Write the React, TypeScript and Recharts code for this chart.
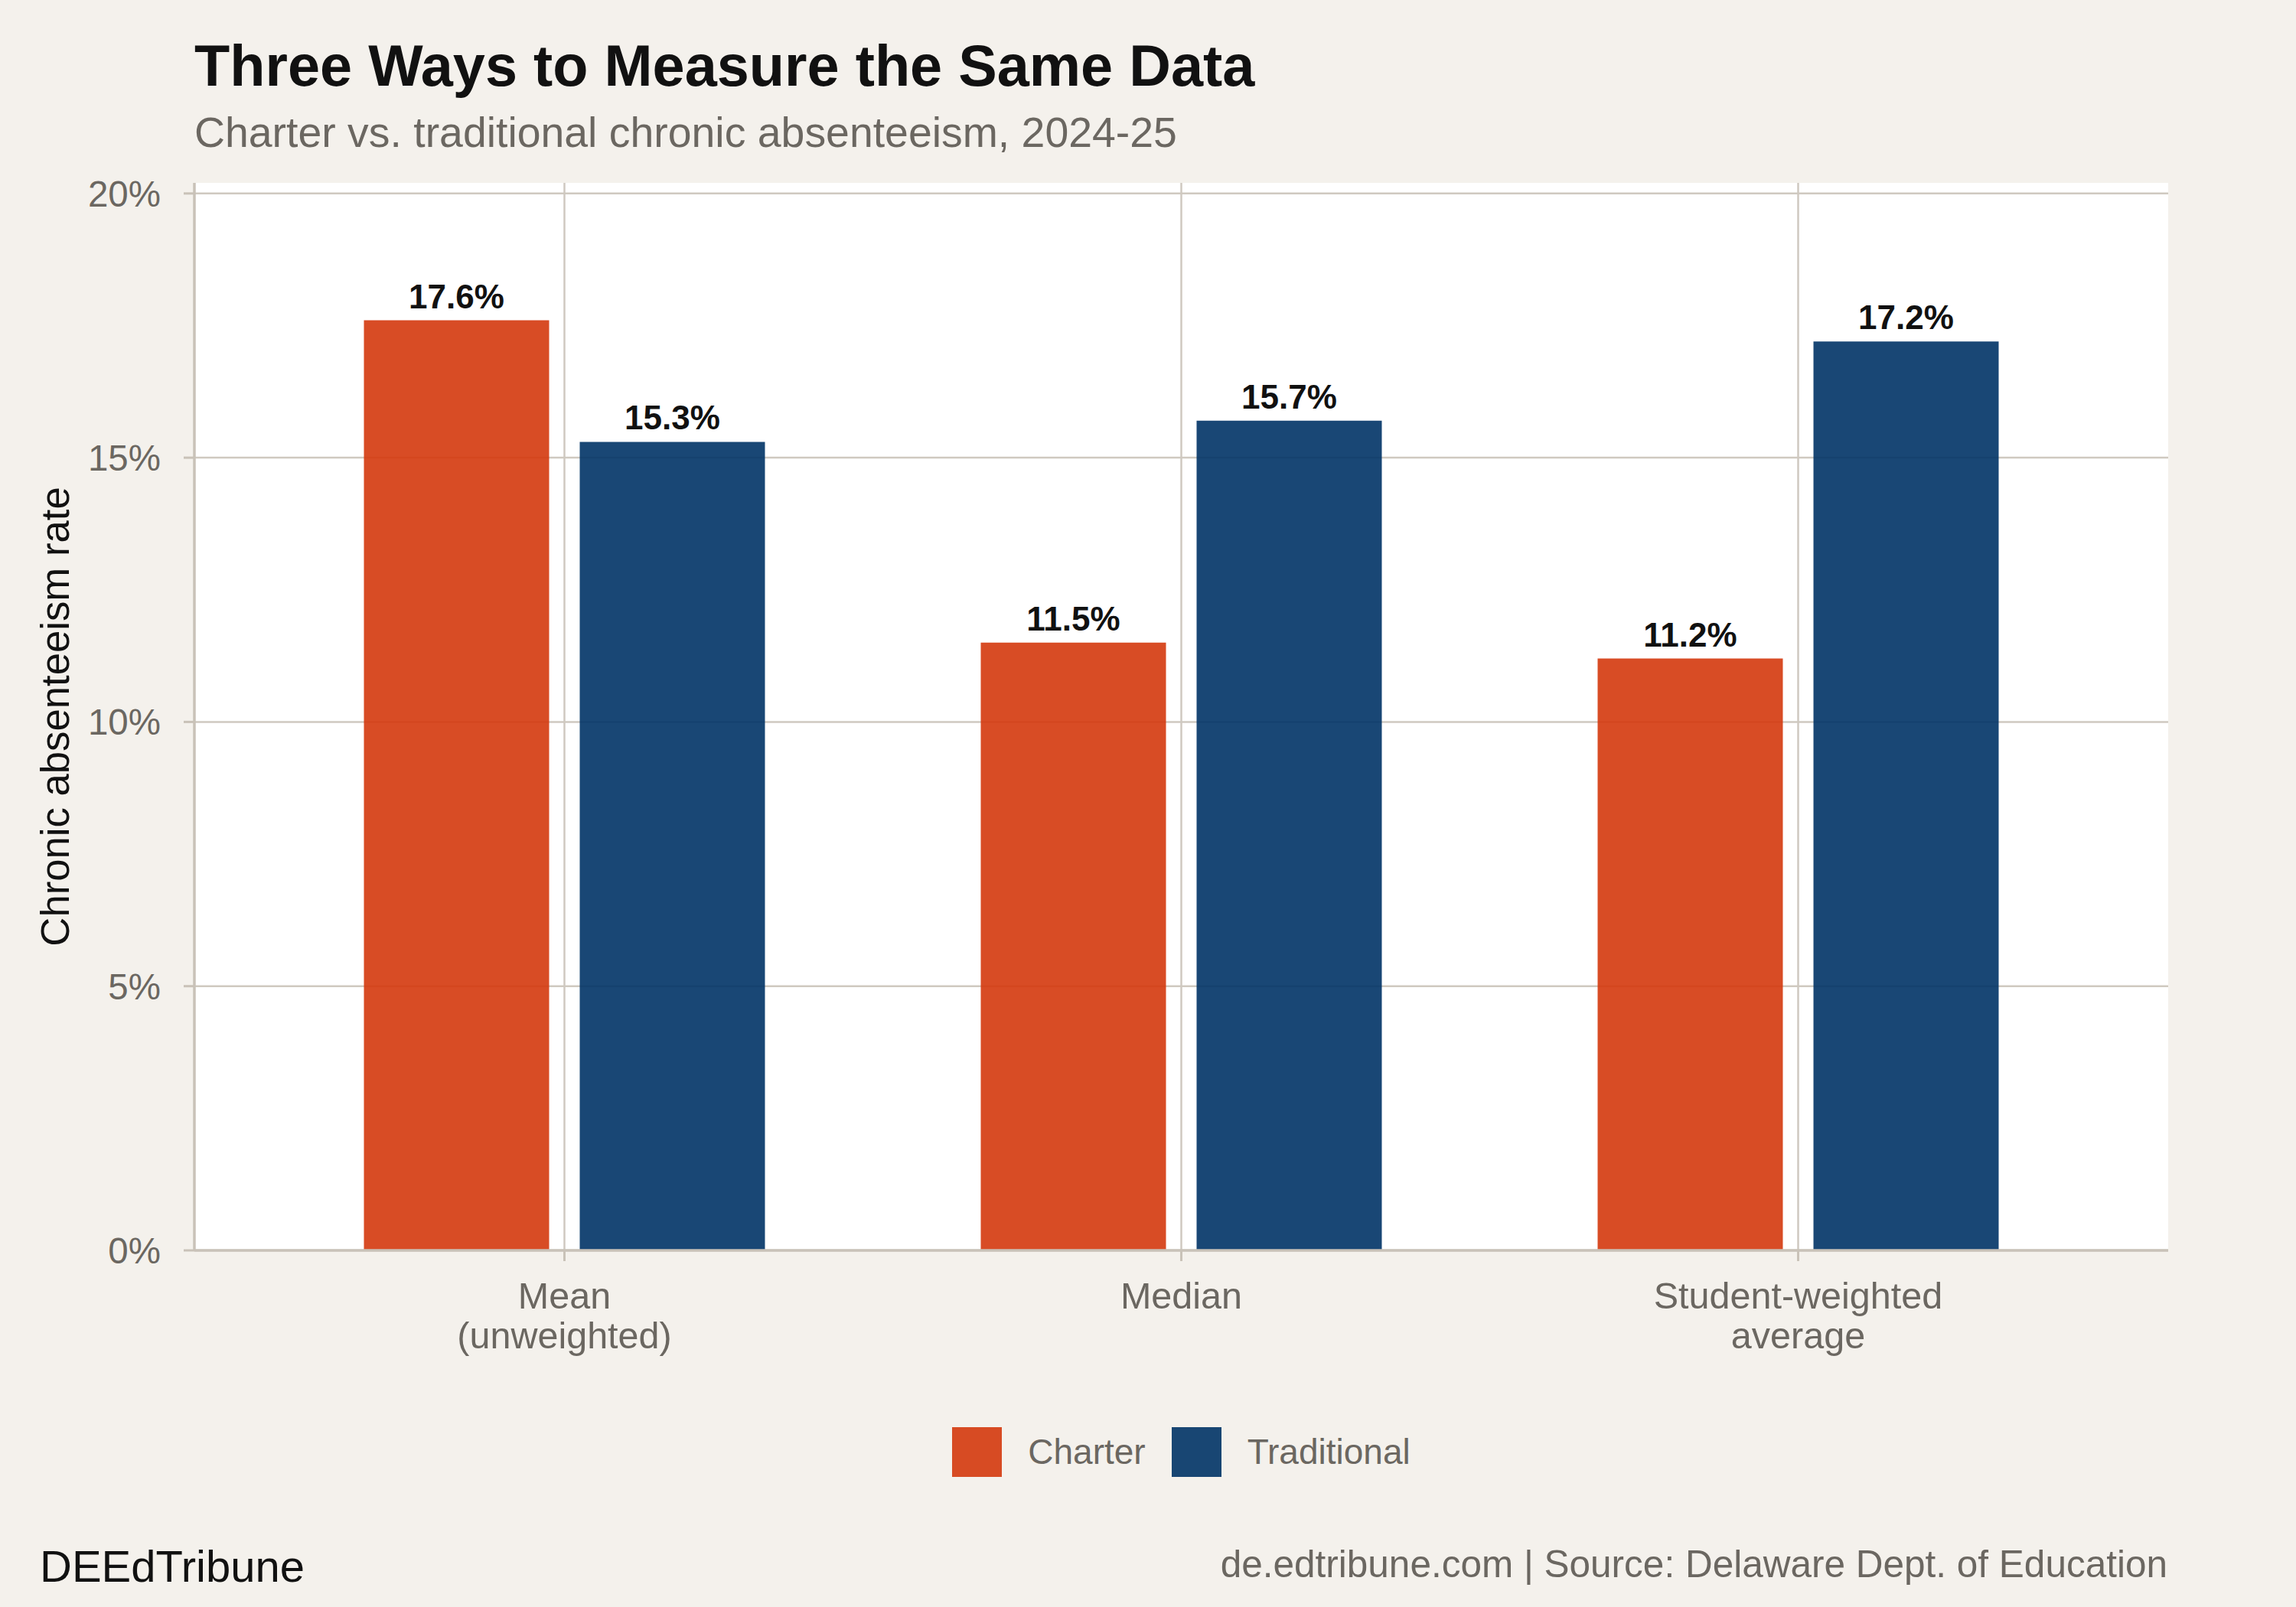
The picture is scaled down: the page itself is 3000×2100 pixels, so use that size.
import { Bar, BarChart, CartesianGrid, LabelList, Legend, XAxis, YAxis } from "recharts";

// chronic absenteeism rate (%) by summary method
const categories = ["Mean\n(unweighted)", "Median", "Student-weighted\naverage"];
const charterRates = [17.6, 11.5, 11.2];
const traditionalRates = [15.3, 15.7, 17.2];
const yTicks = [0, 5, 10, 15, 20];

const SERIES = [
  { key: "charter", name: "Charter", color: "#D4380D" },
  { key: "traditional", name: "Traditional", color: "#003366" },
];

const data = categories.map((label, i) => ({
  label,
  charter: charterRates[i],
  traditional: traditionalRates[i],
}));

const W = 3000;
const H = 2100;
const FONT = "'Liberation Sans', Arial, Helvetica, sans-serif";
const BG = "#F4F1EC";
const GRID = "#CFC9C0";
const AXIS = "#C9C2B8";
const MUTED = "#6B6761";
const INK = "#111111";

function CategoryTick({ x, y, payload }: any) {
  const lines = String(payload.value).split("\n");
  return (
    <text x={x} y={y} textAnchor="middle" fill={MUTED} fontSize={48.5} fontFamily={FONT}>
      {lines.map((line, i) => (
        <tspan key={i} x={x} dy={i === 0 ? 62 : 52}>
          {line}
        </tspan>
      ))}
    </text>
  );
}

function YTitle({ viewBox }: any) {
  const cx = 90;
  const cy = viewBox.y + viewBox.height / 2;
  return (
    <text
      x={cx}
      y={cy}
      transform={`rotate(-90, ${cx}, ${cy})`}
      textAnchor="middle"
      fill={INK}
      fontSize={52.7}
      fontFamily={FONT}
    >
      Chronic absenteeism rate
    </text>
  );
}

function LegendContent({ payload }: any) {
  return (
    <div
      style={{
        display: "flex",
        justifyContent: "center",
        alignItems: "center",
        gap: 34,
        fontFamily: FONT,
        fontSize: 46,
        lineHeight: "65px",
        color: MUTED,
      }}
    >
      {(payload || []).map((item: any) => (
        <div key={item.value} style={{ display: "flex", alignItems: "center", gap: 34 }}>
          <span style={{ width: 65, height: 65, background: item.color, opacity: 0.9 }} />
          <span>{item.value}</span>
        </div>
      ))}
    </div>
  );
}

export default function App() {
  return (
    <div style={{ position: "absolute", left: 0, top: 0, width: W, height: H, background: BG }}>
      <BarChart
        width={W}
        height={H}
        data={data}
        margin={{ top: 239, right: 167, bottom: 0, left: 0 }}
        barSize={242}
        barGap={40}
      >
        <CartesianGrid fill="#ffffff" stroke={GRID} strokeWidth={2.5} syncWithTicks />
        <XAxis
          dataKey="label"
          height={466}
          interval={0}
          padding={{ left: 80.5, right: 80.5 }}
          tickSize={14}
          tickMargin={0}
          tick={<CategoryTick />}
          tickLine={{ stroke: AXIS, strokeWidth: 3 }}
          axisLine={{ stroke: AXIS, strokeWidth: 3.5 }}
        />
        <YAxis
          width={254}
          type="number"
          domain={[0, 20.2]}
          ticks={yTicks}
          tickFormatter={(v) => `${v}%`}
          tickSize={14}
          tickMargin={30}
          tick={{ fill: MUTED, fontSize: 47.5, fontFamily: FONT }}
          tickLine={{ stroke: AXIS, strokeWidth: 3 }}
          axisLine={{ stroke: AXIS, strokeWidth: 3.5 }}
          label={<YTitle />}
        />
        <Legend
          layout="horizontal"
          verticalAlign="middle"
          align="center"
          wrapperStyle={{ top: 1865, left: 254, width: 2579 }}
          content={<LegendContent />}
        />
        {SERIES.map((s) => (
          <Bar
            key={s.key}
            dataKey={s.key}
            name={s.name}
            fill={s.color}
            fillOpacity={0.9}
            isAnimationActive={false}
          >
            <LabelList
              dataKey={s.key}
              position="top"
              offset={16}
              formatter={(v: any) => `${Number(v).toFixed(1)}%`}
              fill={INK}
              fontSize={44}
              fontWeight={700}
              fontFamily={FONT}
            />
          </Bar>
        ))}
      </BarChart>
      <svg
        width={W}
        height={H}
        style={{ position: "absolute", left: 0, top: 0, pointerEvents: "none" }}
        fontFamily={FONT}
      >
        <text x={254} y={112} fontSize={75.7} fontWeight={700} fill={INK}>
          Three Ways to Measure the Same Data
        </text>
        <text x={254} y={192} fontSize={55.4} fill={MUTED}>
          Charter vs. traditional chronic absenteeism, 2024-25
        </text>
        <text x={52} y={2067} fontSize={58} fill={INK}>
          DEEdTribune
        </text>
        <text x={2832} y={2061} fontSize={49.5} fill={MUTED} textAnchor="end">
          de.edtribune.com | Source: Delaware Dept. of Education
        </text>
      </svg>
    </div>
  );
}
